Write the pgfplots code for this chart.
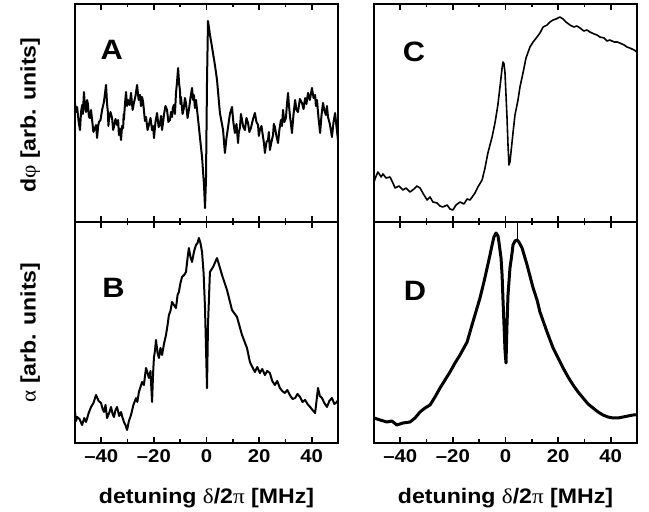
\documentclass[border=0pt]{standalone}
\usepackage{fontspec}
\setmainfont{Liberation Sans}[FakeStretch=1.1]
\newfontfamily\grk{Liberation Serif}[FakeStretch=1.1]
\usepackage{pgfplots}
\pgfplotsset{compat=1.18}

\tikzset{
  trace/.style={black, line width=2pt, line join=round},
  tag/.style={font=\fontsize{28}{28}\selectfont\bfseries},
}
\pgfplotsset{
  panel/.style={
    scale only axis, width=263pt,
    xmin=-50, xmax=50, ymin=0,
    axis line style={line width=2pt},
    xtick={-40,-20,0,20,40}, minor xtick={-30,-10,10,30},
    xtick pos=both, ytick=\empty, tick align=inside,
    major tick length=6pt, minor tick length=3.5pt,
    every tick/.style={black, line width=1.7pt},
    xticklabels={{–40},{–20},0,20,40},
    xticklabel style={font=\fontsize{18.5}{18.5}\selectfont\bfseries, yshift=-3pt},
    label style={font=\fontsize{21}{22}\selectfont\bfseries},
    clip=false,
  },
  toprow/.style={panel, height=218pt, ymax=218, xticklabels=\empty},
  botrow/.style={panel, height=221pt, ymax=221,
    xlabel={detuning {\grk\mdseries δ}/2{\grk\mdseries π} [MHz]},
    xlabel style={at={(axis description cs:0.5,-0.25)}, anchor=center}},
}

\begin{document}
\begin{tikzpicture}[x=1pt,y=1pt]
\useasboundingbox (0,0) rectangle (649,512);

% A: phase, left
\begin{axis}[toprow, at={(75pt,290pt)}, anchor=south west,
  ylabel={d{\grk\mdseries φ} [arb. units]},
  ylabel style={at={(axis description cs:-0.17,0.49)}, anchor=center}]
\addplot[trace] coordinates {
(-50,119)(-49.6,110)(-49.2,115)(-48.6,100)(-48.1,92)(-47.7,110)(-47.3,117)(-47.0,108)
(-46.6,130)(-46.2,115)(-45.8,110)(-45.4,122)(-45.1,118)(-44.7,105)(-44.3,104)(-43.9,112)
(-43.5,102)(-43.0,90)(-42.4,94)(-42.0,97)(-41.6,84)(-41.2,96)(-40.9,100)(-40.3,102)
(-39.7,112)(-39.0,120)(-38.2,137)(-37.8,118)(-37.5,110)(-37.3,96)(-37.1,102)(-36.5,110)
(-35.9,104)(-35.5,92)(-35.2,95)(-34.6,103)(-34.0,97)(-33.6,102)(-33.3,87)(-32.9,93)
(-32.5,82)(-32.1,96)(-31.7,94)(-31.5,108)(-31.4,102)(-31.0,118)(-30.6,130)(-30.2,116)
(-29.8,122)(-29.2,117)(-28.7,129)(-28.1,112)(-27.6,119)(-27.0,126)(-26.4,137)(-25.8,122)
(-25.3,127)(-24.9,116)(-24.5,125)(-24.1,120)(-23.8,112)(-23.4,101)(-23.0,105)(-22.4,92)
(-21.9,97)(-21.3,104)(-20.7,92)(-20.3,96)(-19.96,84)(-19.4,100)(-18.8,109)(-18.2,95)
(-17.7,97)(-17.3,106)(-16.9,92)(-16.5,100)(-16.2,107)(-15.6,116)(-15.0,112)(-14.5,100)
(-13.9,102)(-13.5,110)(-13.1,105)(-12.8,114)(-12.4,117)(-12.0,108)(-11.6,129)(-11.2,140)
(-10.8,154)(-10.4,138)(-10.1,132)(-9.9,118)(-9.7,125)(-9.1,108)(-8.6,114)(-8.2,124)
(-7.8,119)(-7.2,104)(-6.7,112)(-6.1,124)(-5.5,134)(-5.1,122)(-4.8,127)(-4.4,114)
(-4.0,122)(-3.5,110)(-2.9,95)(-1.7,65)(-0.95,37)(-0.57,14)(-0.2,42)(0.2,142)
(0.57,201)(1.33,187)(2.1,175)(3.2,157)(4.0,142)(5.1,109)(6.3,92)(7.0,69)
(7.6,84)(8.2,95)(8.9,108)(9.7,115)(10.2,100)(10.8,89)(11.4,98)(12.0,79)
(12.3,90)(12.7,94)(13.1,108)(13.5,102)(14.0,95)(14.6,92)(15.2,104)(15.8,99)
(16.3,90)(16.9,94)(17.6,102)(18.4,109)(19.0,100)(19.6,97)(19.9,86)(20.3,92)
(20.9,96)(21.5,85)(21.9,78)(22.2,69)(22.8,80)(23.4,82)(23.7,90)(24.1,72)
(24.7,80)(25.3,87)(25.6,98)(26.0,95)(26.6,86)(27.2,79)(27.7,92)(28.3,102)
(28.7,96)(29.1,112)(29.6,100)(30.2,104)(30.6,118)(31.0,129)(31.3,118)(31.7,107)
(32.1,98)(32.5,89)(33.1,108)(33.7,122)(34.2,112)(34.8,110)(35.5,123)(36.3,119)
(36.9,113)(37.5,124)(38.0,118)(38.6,129)(39.3,122)(40.1,134)(40.7,124)(41.3,127)
(41.6,116)(42.0,122)(42.6,104)(43.2,89)(43.7,106)(44.3,119)(44.8,112)(45.4,107)
(45.8,116)(46.2,105)(46.9,98)(47.7,85)(48.3,100)(48.9,109)(49.4,96)(50,82)};
\node[tag] at (axis description cs:0.14,0.79) {A};
\end{axis}

% B: absorption, left
\begin{axis}[botrow, at={(75pt,69pt)}, anchor=south west,
  ylabel={{\grk\mdseries α} [arb. units]},
  ylabel style={at={(axis description cs:-0.17,0.5)}, anchor=center}]
\addplot[trace] coordinates {
(-50,31)(-49.6,22)(-49.2,26)(-48.3,24)(-47.3,18)(-46.5,25)(-45.8,21)(-44.8,30)
(-43.9,36)(-43.0,40)(-42.0,48)(-41.0,42)(-40.1,40)(-39.5,34)(-39.0,31)(-38.4,38)
(-37.8,25)(-37.0,30)(-36.3,36)(-35.7,29)(-35.2,26)(-34.6,33)(-34.0,36)(-33.2,27)
(-32.5,31)(-32.0,26)(-31.4,21)(-30.8,18)(-30.2,13)(-29.5,22)(-28.7,28)(-27.8,38)
(-26.8,45)(-26.3,41)(-25.7,51)(-25.1,56)(-24.5,61)(-23.8,58)(-23.0,75)(-22.4,70)
(-21.9,65)(-21.3,72)(-20.7,41)(-20.3,70)(-20.0,85)(-19.6,92)(-19.2,103)(-18.6,90)
(-18.1,85)(-17.5,95)(-16.9,88)(-16.1,100)(-15.4,108)(-14.8,118)(-14.3,128)(-13.7,132)
(-13.1,141)(-12.4,138)(-11.6,135)(-11.0,148)(-10.5,151)(-9.9,160)(-9.3,166)(-8.5,168)
(-7.8,171)(-7.2,185)(-6.7,195)(-6.1,186)(-5.5,181)(-4.7,192)(-4.0,198)(-3.4,200)
(-2.9,205)(-2.3,200)(-1.7,191)(-1.1,170)(-0.57,135)(0.19,55)(0.57,118)(1.3,171)
(2.5,176)(4.0,185)(5.9,168)(7.8,153)(9.7,133)(11.6,126)(13.5,108)(15.4,95)
(16.5,81)(17.4,76)(18.4,71)(19.3,76)(20.3,70)(21.2,74)(22.2,68)(23.1,72)(24.1,70)
(25.0,62)(26.0,58)(26.9,62)(27.9,55)(28.8,52)(29.8,50)(30.7,53)(31.7,48)(32.7,44)(33.7,45)
(34.6,49)(35.6,46)(36.5,41)(37.5,43)(38.4,39)(39.4,36)(40.3,33)(41.3,30)(42.4,55)
(43.1,47)(43.9,45)(44.8,40)(45.8,36)(46.7,42)(47.7,45)(48.6,39)(49.6,41)(50,43)};
\node[tag] at (axis description cs:0.146,0.70) {B};
\end{axis}

% C: phase, right
\begin{axis}[toprow, at={(374pt,290pt)}, anchor=south west]
\addplot[trace, line width=1.6pt] coordinates {
(-50,40)(-49.2,46)(-48.5,50)(-47.3,45)(-46.6,48)(-45.4,44)(-43.9,45)(-42.8,39)
(-42.0,34)(-40.5,36)(-39.0,32)(-37.8,34)(-36.3,30)(-34.8,33)(-33.7,36)(-32.5,34)
(-31.0,27)(-29.8,22)(-28.7,25)(-27.6,20)(-26.0,19)(-24.9,16)(-23.8,15)(-22.2,17)
(-21.1,13)(-20.0,12)(-18.8,17)(-17.3,20)(-15.8,18)(-14.6,23)(-13.5,22)(-11.6,29)
(-10.5,35)(-8.9,42)(-7.8,54)(-6.7,69)(-5.1,85)(-4.0,99)(-2.9,117)(-2.1,135)
(-1.3,154)(-0.95,160)(-0.57,158)(-0.19,149)(0.19,127)(0.57,105)(0.95,77)(1.33,57)
(1.7,60)(2.85,89)(3.6,107)(4.75,122)(5.5,135)(6.65,149)(7.8,164)(9.3,175)
(10.5,180)(12.0,185)(13.1,189)(14.3,195)(15.8,197)(16.9,200)(18.1,202)(19.2,203)
(20.7,205)(21.9,203)(23.0,200)(24.5,197)(26.0,195)(27.2,196)(28.3,194)(29.8,191)
(31.0,192)(32.1,190)(33.7,188)(34.8,187)(35.9,185)(37.5,184)(38.6,181)(39.7,182)
(41.3,180)(42.4,180)(43.5,179)(45.1,177)(46.2,175)(47.3,174)(48.9,172)(50,170)};
\node[tag] at (axis description cs:0.152,0.78) {C};
\end{axis}

% D: absorption, right
\begin{axis}[botrow, at={(374pt,69pt)}, anchor=south west]
\addplot[trace, line width=3pt] coordinates {
(-50,25)(-47.7,23)(-45.1,21)(-43.2,22)(-41.3,18)(-39.0,20)(-36.3,21)(-34.4,25)
(-32.5,31)(-30.6,35)(-28.7,38)(-26.8,46)(-24.9,55)(-23.0,63)(-21.1,71)(-19.2,80)
(-17.3,88)(-14.6,101)(-12.4,121)(-9.7,145)(-8.2,161)(-7.0,175)(-5.9,188)(-5.1,198)
(-4.4,206)(-3.6,210)(-2.85,207)(-2.5,201)(-1.7,185)(-1.3,168)(-0.95,143)(-0.57,118)
(-0.19,93)(0.19,80)(0.57,118)(0.95,148)(1.7,175)(2.5,190)(2.85,198)(3.6,202)
(4.4,203)(5.1,201)(6.3,195)(8.2,178)(9.3,167)(10.5,155)(12.0,143)(13.1,131)
(15.8,111)(18.1,95)(20.0,85)(21.9,75)(23.8,66)(25.7,58)(27.6,51)(29.5,45)
(31.4,39)(33.3,35)(35.2,31)(37.1,28)(39.0,26)(40.9,25)(42.8,25)(44.7,26)
(46.6,27)(48.5,28)(50,28)};
\addplot[black, line width=0.8pt] coordinates {(4.5,203)(4.5,221)};
\node[tag] at (axis description cs:0.156,0.69) {D};
\end{axis}
\end{tikzpicture}
\end{document}
